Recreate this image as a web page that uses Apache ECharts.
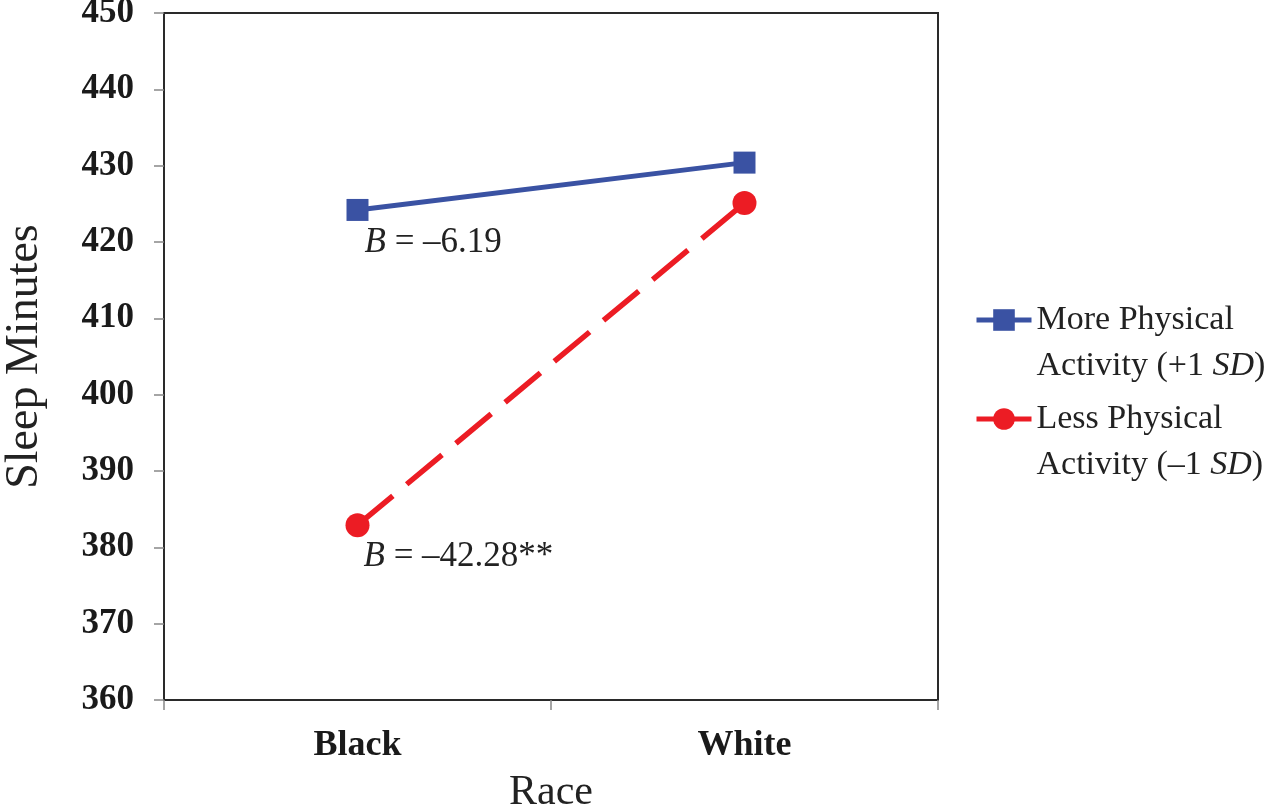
<!DOCTYPE html>
<html><head><meta charset="utf-8">
<script src="https://cdn.jsdelivr.net/npm/echarts@6/dist/echarts.min.js"></script>
<style>html,body{margin:0;padding:0;background:#fff}#c{width:1265px;height:806px}</style>
</head><body><div id="c"></div>
<script>
const categories = ['Black', 'White'];
const seriesNames = ['More Physical Activity (+1 SD)', 'Less Physical Activity (\u22121 SD)'];
const moreActivity = [424.2, 430.4];
const lessActivity = [382.9, 425.1];
const annotations = ['\u20136.19', '\u201342.28**'];
const yMin = 360, yMax = 450, yStep = 10;
const xName = 'Race';
const yName = 'Sleep Minutes';

const FONT = "'Liberation Serif', 'Times New Roman', serif";
const BLUE = '#3A52A3';
const RED = '#EC1C24';

function annotated(values, text) {
  return values.map((v, i) => i === 0 ? {
    value: v,
    label: {
      show: true, position: [18, 44], align: 'left', verticalAlign: 'middle',
      formatter: '{i|B}{t| = ' + text + '}',
      rich: {
        i: { fontFamily: FONT, fontSize: 35, fontStyle: 'italic', color: '#222' },
        t: { fontFamily: FONT, fontSize: 35, color: '#222' }
      }
    }
  } : v);
}

const legendText = {
  [seriesNames[0]]: '{e|}\n{t|More Physical}\n{t|Activity (+1 }{i|SD}{t|)}',
  [seriesNames[1]]: '{e|}\n{t|Less Physical}\n{t|Activity (\u20131 }{i|SD}{t|)}'
};
const legendRich = {
  e: { fontFamily: FONT, fontSize: 34, lineHeight: 46 },
  t: { fontFamily: FONT, fontSize: 34, lineHeight: 46, color: '#222' },
  i: { fontFamily: FONT, fontSize: 34, lineHeight: 46, fontStyle: 'italic', color: '#222' }
};
function mkLegend(name, top, color) {
  return {
    data: [{ name: name, lineStyle: { type: 'solid', color: color, width: 5 } }],
    left: 974, top: top, orient: 'vertical', padding: 0,
    itemWidth: 55, itemHeight: 27, itemGap: 6, selectedMode: false,
    formatter: n => legendText[n],
    textStyle: { fontFamily: FONT, fontSize: 34, lineHeight: 46, color: '#222', rich: legendRich }
  };
}

const chart = echarts.init(document.getElementById('c'), null, { renderer: 'canvas' });
chart.setOption({
  animation: false,
  backgroundColor: '#fff',
  grid: { left: 164, top: 13, right: 327, bottom: 106, show: true, borderColor: '#2a2a2a', borderWidth: 2, containLabel: false, outerBoundsMode: 'none' },
  legend: [mkLegend(seriesNames[0], 251, BLUE), mkLegend(seriesNames[1], 350, RED)],
  xAxis: {
    type: 'category', data: categories, boundaryGap: true,
    name: xName, nameLocation: 'middle', nameGap: 72,
    nameTextStyle: { fontFamily: FONT, fontSize: 42, color: '#222' },
    axisLine: { lineStyle: { color: '#2a2a2a', width: 2 } },
    axisTick: { show: true, length: 10, lineStyle: { color: '#888', width: 1.5 } },
    axisLabel: { fontFamily: FONT, fontSize: 36, fontWeight: 'bold', color: '#1a1a1a', margin: 28 },
    splitLine: { show: false }
  },
  yAxis: {
    type: 'value', min: yMin, max: yMax, interval: yStep,
    name: yName, nameLocation: 'middle', nameGap: 116, nameRotate: 90,
    nameTextStyle: { fontFamily: FONT, fontSize: 46, color: '#222' },
    axisLine: { show: true, lineStyle: { color: '#2a2a2a', width: 2 } },
    axisTick: { show: true, length: 10, lineStyle: { color: '#888', width: 1.5 } },
    axisLabel: { fontFamily: FONT, fontSize: 35, fontWeight: 'bold', color: '#1a1a1a', margin: 30, padding: [4, 0, 0, 0] },
    splitLine: { show: false }
  },
  series: [
    {
      name: seriesNames[0], type: 'line', data: annotated(moreActivity, annotations[0]),
      symbol: 'rect', symbolSize: 22, color: BLUE,
      lineStyle: { color: BLUE, width: 5 }, itemStyle: { color: BLUE }
    },
    {
      name: seriesNames[1], type: 'line', data: annotated(lessActivity, annotations[1]),
      symbol: 'circle', symbolSize: 24, color: RED,
      lineStyle: { color: RED, width: 5.5, type: [46, 18] }, itemStyle: { color: RED }
    }
  ]
});
</script></body></html>
